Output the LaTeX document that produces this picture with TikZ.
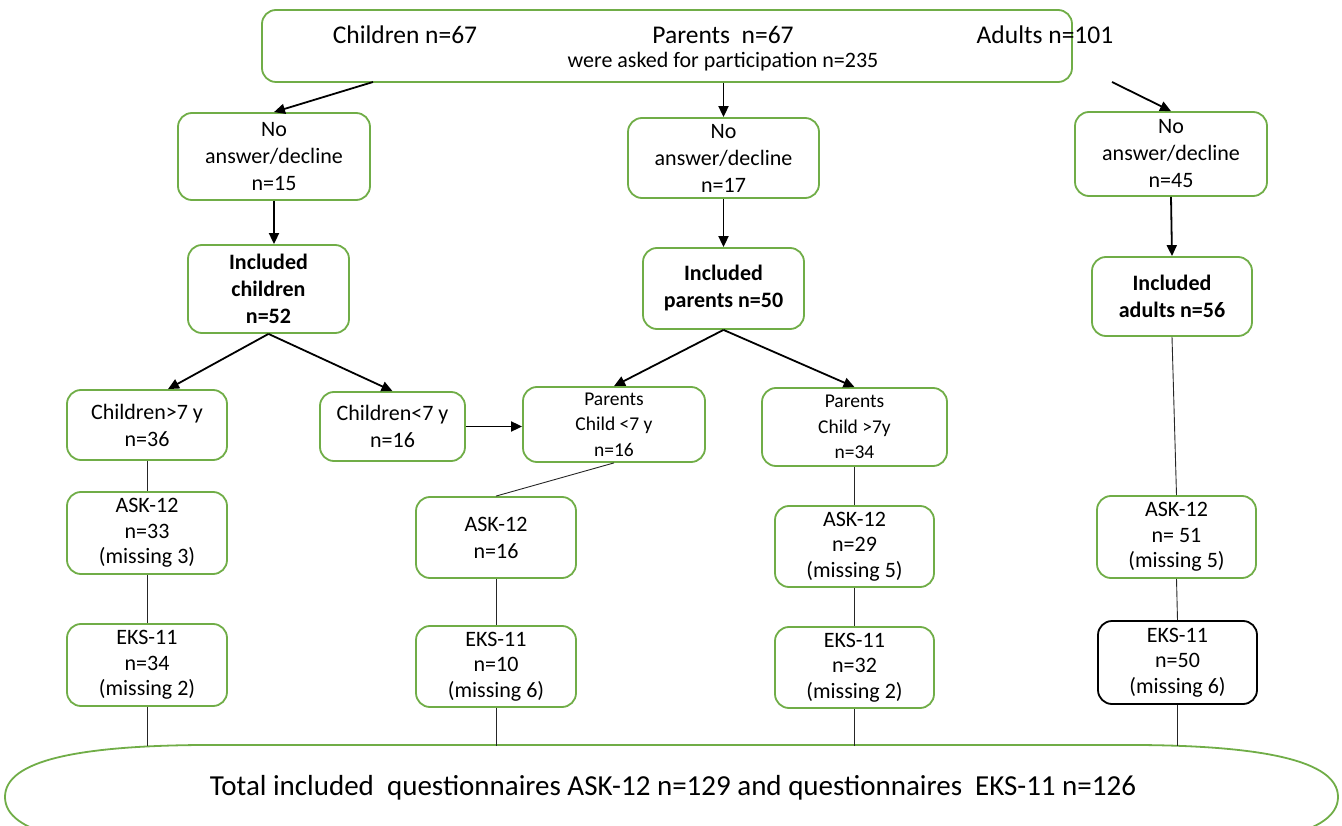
\documentclass[tikz,border=0pt]{standalone}
\usepackage{fontspec}
\setmainfont{Carlito}
\usetikzlibrary{arrows.meta,calc}
\definecolor{gr}{RGB}{112,173,71}
\tikzset{
 box/.style={draw=gr, line width=1.8pt, rounded corners=14pt, align=center, inner sep=0pt, text=black},
 fbig/.style={font=\fontsize{25.5}{30}\selectfont},
 fmid/.style={font=\fontsize{22}{27}\selectfont},
 fmis/.style={font=\fontsize{22}{25.5}\selectfont},
 fsml/.style={font=\fontsize{19.5}{25.5}\selectfont},
 fbold/.style={font=\fontsize{22}{27}\selectfont\bfseries},
 ftot/.style={font=\fontsize{29}{34}\selectfont},
 arr/.style={line width=1.8pt, -{Triangle[length=11pt,width=10pt]}},
 pl/.style={line width=0.9pt, draw=black!85},
}
\begin{document}
\begin{tikzpicture}[x=1pt,y=-1pt]
\useasboundingbox (0,0) rectangle (1342,826);
% top box
\node[box, minimum width=810pt, minimum height=72pt] (top) at (667,46) {};
\node[fbig] (tc) at (405,35) {Children n=67};
\node[fbig] (tp) at (723,35) {Parents\ \ n=67};
\node[fbig] (ta) at (1045,35) {Adults n=101};
\node[fmid] (tw) at (723,62) {were asked for participation n=235};
% row 2
\node[box, fmid, minimum width=192pt, minimum height=87pt] (na1) at (274,156.5) {No\\answer/decline\\n=15};
\node[box, fmid, minimum width=191pt, minimum height=80pt] (na2) at (723.5,158) {No\\answer/decline\\n=17};
\node[box, fmid, minimum width=192pt, minimum height=84pt] (na3) at (1171,154) {No\\answer/decline\\n=45};
% row 3
\node[box, fbold, minimum width=161pt, minimum height=88pt] (inc1) at (268.5,289) {Included\\children\\n=52};
\node[box, fbold, minimum width=161pt, minimum height=81pt] (inc2) at (723.5,288.5) {Included\\parents n=50};
\node[box, fbold, minimum width=160pt, minimum height=79pt] (inc3) at (1172,296.5) {Included\\adults n=56};
% row 4
\node[box, fmid, minimum width=160pt, minimum height=70pt] (c7g) at (147,425) {Children>7 y\\n=36};
\node[box, fmid, minimum width=145pt, minimum height=69pt] (c7l) at (392.5,426.5) {Children<7 y\\n=16};
\node[box, fsml, minimum width=182pt, minimum height=75pt] (pc7l) at (614,424.5) {Parents\\Child <7 y\\n=16};
\node[box, fsml, minimum width=185pt, minimum height=78pt] (pc7g) at (854.5,427) {Parents\\Child >7y\\n=34};
% row 5
\node[box, fmis, minimum width=160pt, minimum height=82pt] (ask1) at (147,533) {ASK-12\\n=33\\(missing 3)};
\node[box, fmid, minimum width=160pt, minimum height=81pt] (ask2) at (496,537.5) {ASK-12\\n=16};
\node[box, fmis, minimum width=159pt, minimum height=81pt] (ask3) at (854.5,546.5) {ASK-12\\n=29\\(missing 5)};
\node[box, fmis, minimum width=159pt, minimum height=82pt] (ask4) at (1176.5,537) {ASK-12\\n= 51\\(missing 5)};
% row 6
\node[box, fmis, minimum width=160pt, minimum height=82pt] (eks1) at (147,665) {EKS-11\\n=34\\(missing 2)};
\node[box, fmis, minimum width=160pt, minimum height=81pt] (eks2) at (496,666.5) {EKS-11\\n=10\\(missing 6)};
\node[box, fmis, minimum width=159pt, minimum height=81pt] (eks3) at (854.5,667.5) {EKS-11\\n=32\\(missing 2)};
\node[box, fmis, draw=black, minimum width=159pt, minimum height=83pt] (eks4) at (1177.5,662.5) {EKS-11\\n=50\\(missing 6)};
% bottom
\draw[draw=gr, line width=1.8pt] (5,797) .. controls (5,760) and (80,746) .. (200,745) -- (1140,745) .. controls (1260,746) and (1338,760) .. (1338,797) .. controls (1338,834) and (1260,848) .. (1140,849) -- (200,849) .. controls (80,848) and (5,834) .. (5,797) -- cycle;
\node[ftot] (tot) at (673,788) {Total included\ \ questionnaires ASK-12 n=129 and questionnaires\ \ EKS-11 n=126};
\coordinate (ttop) at (0,746);
\coordinate (s1) at (373,82);
\coordinate (s3) at (1112,82);
% arrows
\draw[arr] (s1) -- (na1.north);
\draw[arr] (na2.north |- top.south) -- (na2.north);
\draw[arr] (s3) -- (na3.north);
\draw[arr] (na1.south) -- (na1.south |- inc1.north);
\draw[arr] (na2.south) -- (inc2.north);
\draw[arr] (na3.south) -- (inc3.north);
\draw[arr] (inc1.south) -- ($(c7g.north)+(21,0)$);
\draw[arr] (inc1.south) -- (c7l.north);
\draw[arr] (inc2.south) -- (pc7l.north);
\draw[arr] (inc2.south) -- (pc7g.north);
\draw[arr] (c7l.east) -- (pc7l.west |- c7l.east);
% plain lines
\draw[pl] (c7g.south) -- (ask1.north);
\draw[pl] (ask1.south) -- (eks1.north);
\draw[pl] (eks1.south) -- (eks1.south |- ttop);
\draw[pl] (pc7l.south) -- (ask2.north);
\draw[pl] (ask2.south) -- (eks2.north);
\draw[pl] (eks2.south) -- (eks2.south |- ttop);
\draw[pl] (pc7g.south) -- (ask3.north);
\draw[pl] (ask3.south) -- (eks3.north);
\draw[pl] (eks3.south) -- (eks3.south |- ttop);
\draw[pl] (inc3.south) -- (ask4.north);
\draw[pl] (ask4.south) -- (eks4.north);
\draw[pl] (eks4.south) -- (eks4.south |- ttop);
\end{tikzpicture}
\end{document}
